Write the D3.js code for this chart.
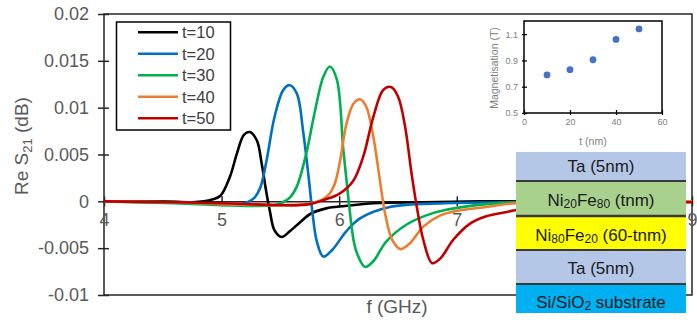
<!DOCTYPE html>
<html>
<head>
<meta charset="utf-8">
<script src="https://cdn.jsdelivr.net/npm/d3@7"></script>
<style>
  html, body { margin: 0; padding: 0; background: #fff; }
  svg { display: block; font-family: "Liberation Sans", Arial, sans-serif; }
</style>
</head>
<body>
<svg id="chart" width="697" height="320"></svg>
<script>
// Frequency axis (GHz) and Re S21 axis (dB)
const freqTicks = [4, 5, 6, 7, 8, 9];
const freqTickLabels = ["4", "5", "6", "7", "", "9"]; // the 8 GHz label sits under the layer stack
const sTicks = [-0.01, -0.005, 0, 0.005, 0.01, 0.015, 0.02];
const sTickLabels = ["-0.01", "-0.005", "0", "0.005", "0.01", "0.015", "0.02"];

// Re S21 spectra for each Ni20Fe80 thickness t (nm)
const seriesNames = ["t=10", "t=20", "t=30", "t=40", "t=50"];
const seriesColors = ["#000000", "#0070C0", "#00B050", "#ED7D31", "#C00000"];

const f10 = [4.0, 4.5, 4.75, 4.85, 4.92, 4.99, 5.07, 5.13, 5.19, 5.24, 5.30, 5.34, 5.38, 5.41, 5.45, 5.51, 5.58, 5.67, 5.76, 5.89, 6.05, 6.3, 6.7, 7.2, 8.0, 9.0];
const s10 = [0, 0, -0.0001, 0, 0.0002, 0.0006, 0.0026, 0.0051, 0.0071, 0.0074, 0.0065, 0.0041, 0.0010, -0.0010, -0.0031, -0.0038, -0.0032, -0.0022, -0.0013, -0.00075, -0.0005, -0.0002, -0.0001, 0, 0, 0];

const f20 = [4.0, 4.6, 5.0, 5.15, 5.22, 5.28, 5.33, 5.38, 5.45, 5.525, 5.58, 5.64, 5.695, 5.74, 5.77, 5.81, 5.865, 5.94, 6.06, 6.18, 6.43, 6.9, 7.5, 8.2, 9.0];
const s20 = [0, -0.0001, -0.0003, -0.0003, -0.0001, 0.0004, 0.0015, 0.0042, 0.0090, 0.0119, 0.0124, 0.0115, 0.0073, 0.0026, -0.0009, -0.0043, -0.0059, -0.0052, -0.0032, -0.0018, -0.0006, -0.0002, -0.0001, 0, 0];

const f30 = [4.0, 4.6, 5.0, 5.3, 5.45, 5.52, 5.58, 5.64, 5.72, 5.79, 5.865, 5.92, 5.98, 6.035, 6.08, 6.12, 6.15, 6.22, 6.29, 6.40, 6.57, 6.74, 6.91, 7.25, 7.5, 8.2, 9.0];
const s30 = [0, -0.0002, -0.0004, -0.0005, -0.0004, -0.0001, 0.0004, 0.0016, 0.0051, 0.0094, 0.0133, 0.0144, 0.0130, 0.0055, 0.0001, -0.0040, -0.0055, -0.0070, -0.0064, -0.0043, -0.0025, -0.0015, -0.0009, -0.0003, -0.0001, 0, 0];

const f40 = [4.0, 4.6, 5.0, 5.4, 5.65, 5.76, 5.84, 5.91, 5.96, 6.01, 6.06, 6.12, 6.177, 6.23, 6.29, 6.35, 6.39, 6.45, 6.52, 6.60, 6.715, 6.86, 6.97, 7.25, 7.51, 8.2, 9.0];
const s40 = [0, -0.0001, -0.0003, -0.0004, -0.0004, -0.0002, 0.0001, 0.0007, 0.0018, 0.0045, 0.0082, 0.0104, 0.0109, 0.0101, 0.0069, 0.0019, -0.0013, -0.0041, -0.0051, -0.0045, -0.0027, -0.0015, -0.0011, -0.0006, -0.0002, -0.0001, 0];

const f50 = [4.0, 4.6, 5.0, 5.5, 5.75, 5.88, 6.0, 6.12, 6.205, 6.29, 6.375, 6.44, 6.50, 6.56, 6.615, 6.66, 6.715, 6.79, 6.86, 6.97, 7.11, 7.25, 7.40, 7.52, 8.0, 8.5, 9.0];
const s50 = [0, -0.0001, -0.0002, -0.0004, -0.0003, 0.0002, 0.0008, 0.0022, 0.0048, 0.0090, 0.0119, 0.0122, 0.0112, 0.0080, 0.0030, -0.0006, -0.0041, -0.0066, -0.0061, -0.0041, -0.0024, -0.0016, -0.0012, -0.0009, -0.0004, -0.0002, -0.0001];

const seriesFreq = [f10, f20, f30, f40, f50];
const seriesS21 = [s10, s20, s30, s40, s50];

// Inset: saturation magnetisation vs thickness
const magThickness = [10, 20, 30, 40, 50];
const magValues = [0.79, 0.83, 0.905, 1.06, 1.14];
const magXTicks = [0, 20, 40, 60];
const magYTicks = [0.5, 0.7, 0.9, 1.1];
const magYTickLabels = ["0.5", "0.7", "0.9", "1.1"];

// Layer stack (top to bottom)
const layerColors = ["#B4C7E7", "#A9D18E", "#FFFF00", "#B4C7E7", "#00B0F0"];

const svg = d3.select("#chart");
const axisGray = "#595959";
const lineDark = "#262626";

const x = d3.scaleLinear().domain([4, 9]).range([104, 692]);
const y = d3.scaleLinear().domain([-0.01, 0.02]).range([295, 14]);

// plot frame
svg.append("rect")
  .attr("x", x(4)).attr("y", y(0.02))
  .attr("width", x(9) - x(4)).attr("height", y(-0.01) - y(0.02))
  .attr("fill", "none").attr("stroke", lineDark).attr("stroke-width", 1.5);

// y axis with crossing ticks
const yAxis = svg.append("g")
  .attr("transform", `translate(${x(4)},0)`)
  .call(d3.axisLeft(y).tickValues(sTicks).tickSize(0).tickPadding(15)
    .tickFormat((d, i) => sTickLabels[i]));
yAxis.select(".domain").remove();
yAxis.selectAll(".tick line").attr("x1", -6).attr("x2", 5)
  .attr("stroke", lineDark).attr("stroke-width", 1.5);
yAxis.selectAll(".tick text").attr("fill", axisGray)
  .attr("font-size", 18).attr("font-family", "Liberation Sans, Arial, sans-serif");

// x axis along zero
const xAxis = svg.append("g")
  .attr("transform", `translate(0,${y(0)})`)
  .call(d3.axisBottom(x).tickValues(freqTicks).tickSize(0).tickPadding(12)
    .tickFormat((d, i) => freqTickLabels[i]));
xAxis.select(".domain").attr("stroke", lineDark).attr("stroke-width", 1.5);
xAxis.selectAll(".tick line").attr("y1", -5).attr("y2", 5)
  .attr("stroke", lineDark).attr("stroke-width", 1.5);
xAxis.selectAll(".tick text").attr("fill", axisGray)
  .attr("font-size", 18).attr("font-family", "Liberation Sans, Arial, sans-serif");

// axis titles
const yTitle = svg.append("text")
  .attr("transform", `translate(28,146) rotate(-90)`)
  .attr("text-anchor", "middle").attr("fill", axisGray).attr("font-size", 19);
yTitle.append("tspan").attr("font-size", 19).text("Re S");
yTitle.append("tspan").attr("font-size", 13).attr("dy", 4).text("21");
yTitle.append("tspan").attr("font-size", 19).attr("dy", -4).text(" (dB)");

svg.append("text").attr("x", 397).attr("y", 313)
  .attr("text-anchor", "middle").attr("fill", axisGray).attr("font-size", 19)
  .text("f (GHz)");

// spectra
const line = d3.line()
  .x(d => x(d[0])).y(d => y(d[1]))
  .curve(d3.curveCatmullRom.alpha(0.5));

seriesNames.forEach((name, i) => {
  const pts = seriesFreq[i].map((f, j) => [f, seriesS21[i][j]]);
  svg.append("path").datum(pts)
    .attr("d", line)
    .attr("fill", "none")
    .attr("stroke", seriesColors[i])
    .attr("stroke-width", 2.6)
    .attr("stroke-linejoin", "round");
});

// legend
const legend = svg.append("g");
legend.append("rect").attr("x", 116.5).attr("y", 22).attr("width", 114).attr("height", 108)
  .attr("fill", "#fff").attr("stroke", "#000").attr("stroke-width", 1.5);
seriesNames.forEach((name, i) => {
  const yy = 32.3 + i * 21.5;
  legend.append("line").attr("x1", 138).attr("x2", 178).attr("y1", yy).attr("y2", yy)
    .attr("stroke", seriesColors[i]).attr("stroke-width", 2.6);
  legend.append("text").attr("x", 182).attr("y", yy + 6)
    .attr("fill", "#404040").attr("font-size", 16.5).text(name);
});

// inset: magnetisation vs t
const mx = d3.scaleLinear().domain([0, 60]).range([524, 662]);
const my = d3.scaleLinear().domain([0.5, 1.2]).range([113, 21]);
const inset = svg.append("g");
inset.append("rect").attr("x", mx(0)).attr("y", my(1.2))
  .attr("width", mx(60) - mx(0)).attr("height", my(0.5) - my(1.2))
  .attr("fill", "#fff").attr("stroke", "#000").attr("stroke-width", 1.5);

const insetGray = "#808080";
const iy = inset.append("g").attr("transform", `translate(${mx(0)},0)`)
  .call(d3.axisLeft(my).tickValues(magYTicks).tickSize(0).tickPadding(6)
    .tickFormat((d, i) => magYTickLabels[i]));
iy.select(".domain").remove();
iy.selectAll(".tick line").attr("x1", -2).attr("x2", 3).attr("stroke", "#000").attr("stroke-width", 1.2);
iy.selectAll(".tick text").attr("fill", insetGray).attr("font-size", 9)
  .attr("font-family", "Liberation Sans, Arial, sans-serif");

const ix = inset.append("g").attr("transform", `translate(0,${my(0.5)})`)
  .call(d3.axisBottom(mx).tickValues(magXTicks).tickSize(0).tickPadding(6)
    .tickFormat(d3.format("d")));
ix.select(".domain").remove();
ix.selectAll(".tick line").attr("y1", -3).attr("y2", 2).attr("stroke", "#000").attr("stroke-width", 1.2);
ix.selectAll(".tick text").attr("fill", insetGray).attr("font-size", 9)
  .attr("font-family", "Liberation Sans, Arial, sans-serif");

inset.append("text").attr("transform", "translate(498,68) rotate(-90)")
  .attr("text-anchor", "middle").attr("fill", insetGray).attr("font-size", 10.5)
  .text("Magnetisation (T)");
inset.append("text").attr("x", 593).attr("y", 145)
  .attr("text-anchor", "middle").attr("fill", insetGray).attr("font-size", 10.5)
  .text("t (nm)");

inset.selectAll("circle").data(magThickness).join("circle")
  .attr("cx", d => mx(d)).attr("cy", (d, i) => my(magValues[i]))
  .attr("r", 3.4).attr("fill", "#4472C4");

// layer stack
const stack = svg.append("g");
const stackX = 516, stackW = 170;
const layerEdges = [152, 181, 216, 250, 284, 313];
layerColors.forEach((c, i) => {
  stack.append("rect").attr("x", stackX).attr("y", layerEdges[i])
    .attr("width", stackW).attr("height", layerEdges[i + 1] - layerEdges[i])
    .attr("fill", c);
});
[181, 216, 250, 284].forEach((yy, i) => {
  stack.append("line").attr("x1", stackX).attr("x2", stackX + stackW)
    .attr("y1", yy).attr("y2", yy)
    .attr("stroke", "#3a3a3a").attr("stroke-width", i === 1 ? 2.4 : 1.8);
});

const layerTextX = stackX + stackW / 2;
const stackFont = 17;
const subFont = 12;
function layerLabel(yBase, parts) {
  const t = stack.append("text").attr("x", layerTextX).attr("y", yBase)
    .attr("text-anchor", "middle").attr("fill", "#1a1a1a").attr("font-size", stackFont);
  parts.forEach(p => {
    const s = t.append("tspan").text(p[0]).attr("font-size", p[1] > 0 ? subFont : stackFont);
    if (p[1]) s.attr("dy", p[1]);
  });
}
layerLabel(172, [["Ta (5nm)"]]);
layerLabel(205.5, [["Ni"], ["20", 2], ["Fe", -2], ["80", 2], [" (tnm)", -2]]);
layerLabel(240.5, [["Ni"], ["80", 2], ["Fe", -2], ["20", 2], [" (60-tnm)", -2]]);
layerLabel(274, [["Ta (5nm)"]]);
layerLabel(308, [["Si/SiO"], ["2", 2], [" substrate", -2]]);
</script>
</body>
</html>
